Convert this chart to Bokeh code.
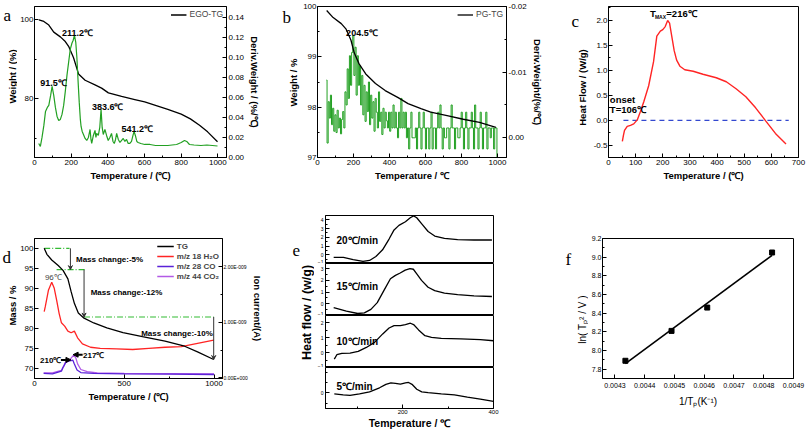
import numpy as np
from bokeh.plotting import figure
from bokeh.models import (Range1d, LinearAxis, FixedTicker, NumeralTickFormatter,
                          Label, Legend, LegendItem, Arrow, VeeHead, NormalHead)
from bokeh.layouts import row, column
from bokeh.core.properties import value
from bokeh.embed import file_html
from bokeh.resources import INLINE

FONT = "Liberation Sans"
SERIF = "Liberation Serif"
GREEN = "#22a022"
RED = "#ff2424"

# ---------------- data ----------------
# (a) EGO TG / DTG
a_tg_T = [24, 51, 78, 105, 141, 168, 186, 213, 240, 276, 330, 366, 403, 475, 547, 601, 727, 800, 850, 900, 944, 998]
a_tg_w = [100.0, 99.6, 98.7, 96.9, 95.7, 94.5, 93.3, 90.4, 86.3, 84.7, 83.5, 82.7, 81.5, 80.6, 79.8, 79.2, 77.3, 76.1, 74.9, 73.3, 71.6, 69.1]
a_dtg_T = [23, 32, 41, 51, 60, 70, 78, 88, 96, 105, 114, 123, 132, 141, 150, 159, 168, 177, 186, 195, 204, 211,
           218, 225, 231, 238, 244, 250, 254, 260, 267, 276, 285, 294, 303, 308, 312, 321, 330, 335, 339, 348,
           356, 363, 369, 375, 384, 393, 402, 411, 420, 428, 435, 442, 448, 457, 466, 475, 484, 493, 502, 511,
           520, 529, 537, 543, 550, 558, 565, 580, 601, 630, 660, 700, 727, 750, 775, 800, 818, 830, 845, 870,
           908, 940, 970, 998]
a_dtg = [0.014, 0.011, 0.020, 0.032, 0.046, 0.050, 0.052, 0.062, 0.071, 0.062, 0.050, 0.041, 0.037, 0.038,
         0.043, 0.052, 0.066, 0.082, 0.095, 0.108, 0.114, 0.117, 0.122, 0.115, 0.100, 0.075, 0.055, 0.038,
         0.031, 0.026, 0.023, 0.019, 0.017, 0.020, 0.028, 0.018, 0.014, 0.022, 0.027, 0.020, 0.024, 0.022,
         0.030, 0.048, 0.030, 0.023, 0.028, 0.022, 0.017, 0.020, 0.024, 0.016, 0.014, 0.018, 0.024, 0.018,
         0.015, 0.017, 0.019, 0.016, 0.018, 0.014, 0.014, 0.016, 0.022, 0.026, 0.022, 0.016, 0.015, 0.014,
         0.013, 0.013, 0.012, 0.012, 0.012, 0.0125, 0.013, 0.015, 0.017, 0.016, 0.013, 0.0125, 0.012, 0.0125,
         0.012, 0.0115]

# (b) PG TG / DTG
b_tg_T = [51, 87, 132, 159, 186, 204, 231, 268, 322, 376, 448, 503, 575, 629, 720, 810, 900, 991]
b_tg_w = [99.92, 99.78, 99.66, 99.55, 99.33, 99.08, 98.86, 98.66, 98.47, 98.33, 98.19, 98.07, 97.97, 97.90,
          97.83, 97.76, 97.70, 97.60]
b_dtg_milli = [-8.8, 0.8, -5.5, -3.0, -6.5, -2.0,
               -4.5, -1.0, -3.5, -0.8, -4.2, -1.5, -3.0, -0.6, -2.8, -4.0,
               -1.5, -7.0, -5.0, -10.5, -6.0,
               -12.5, -8.0, -13.0, -15.6, -9.5, -13.8, -6.5, -12.5, -8.0, -11.0,
               -5.0, -9.5, -3.5, -8.0, -2.5, -7.0, -4.0, -8.5, -2.0, -6.5, -3.0,
               -5.5, -1.0, -6.0, -3.9, -1.5, -7.0, -2.5, -3.9, -0.5, -4.5, -1.5, -3.9, -2.6, -1.5, -3.9, -1.0,
               -3.9, -1.5, -5.0, -1.5, -3.9, -1.5, 0.0, -3.9, -1.5, -6.0, -1.5, -3.9, -1.5, -3.9, 0.0, -1.5,
               1.7, -1.5, -3.9, 0.0, 0.0, 0.0, -1.5, 1.7, -1.5, -3.9, -1.5, 1.7, -1.5, -3.9, -1.5, 1.7,
               -1.5, -1.5, 1.7, -1.5, -3.9, 1.7, -1.5, -1.5, 1.7, -1.5, -3.9, -1.5, -5.0, -1.5, 1.7, -1.5,
               0.0, 0.0, -1.5, -1.5, 1.7, -1.5, -5.0, -1.5, -1.5, 1.7, -1.5, -1.5, 0.0, 0.0, -1.5, -3.9,
               -1.5, 1.7, -1.5, -3.9, -1.5, 1.7, -1.5, -1.5, -3.9, -1.5, 1.7, -5.0, -1.5, -1.5, 1.7, -1.5,
               -3.9, -1.5, 1.7, -1.5, -1.5, -3.9, 1.7, -1.5, -1.5, 0.0, -1.5, -1.5, 1.7, -1.5, -1.5, 3.0]
b_dtg_T = np.linspace(50, 1000, len(b_dtg_milli))

# (c) DSC
c_T = [51, 55, 59, 69, 81, 93, 106, 118, 130, 148, 166, 178, 191, 200, 209, 218, 225, 233, 242, 251, 263,
       281, 312, 348, 397, 434, 470, 506, 542, 579, 615, 654]
c_hf = [-0.42, -0.30, -0.20, -0.12, -0.10, -0.07, 0.01, 0.18, 0.37, 0.69, 1.17, 1.68, 1.78, 1.81, 1.87, 1.99,
        1.94, 1.68, 1.39, 1.20, 1.08, 1.01, 0.98, 0.92, 0.85, 0.77, 0.63, 0.47, 0.25, -0.01, -0.26, -0.47]
c_zero_T = [55, 664]

# (d) TG-MS
d_tg_T = [54, 69, 96, 132, 159, 186, 204, 222, 244, 276, 330, 403, 493, 601, 727, 836, 908, 998]
d_tg_m = [100, 98.5, 97.1, 95.7, 94.5, 92.4, 89.2, 86.3, 83.9, 82.6, 81.4, 80.2, 79.0, 78.0, 76.9, 75.6, 74.2, 72.3]
d_h2o_T = [54, 60, 78, 96, 110, 123, 137, 150, 168, 186, 204, 222, 240, 267, 312, 366, 457, 547, 637, 727, 818, 908, 998]
d_h2o_nA = [1.19, 1.28, 1.58, 1.72, 1.61, 1.40, 1.16, 0.99, 0.93, 0.84, 0.81, 0.84, 0.72, 0.61, 0.55, 0.53,
            0.52, 0.51, 0.53, 0.55, 0.56, 0.62, 0.68]
d_co_T = [51, 100, 150, 159, 173, 186, 204, 213, 222, 237, 258, 330, 500, 750, 1000]
d_co_nA = [0.08, 0.07, 0.12, 0.19, 0.27, 0.30, 0.31, 0.32, 0.25, 0.14, 0.095, 0.08, 0.07, 0.065, 0.06]
d_co2_T = [51, 100, 150, 165, 172, 190, 205, 219, 230, 240, 258, 294, 350, 500, 750, 1000]
d_co2_nA = [0.09, 0.09, 0.136, 0.22, 0.28, 0.30, 0.36, 0.41, 0.36, 0.25, 0.15, 0.11, 0.09, 0.08, 0.075, 0.07]
d_levels = [100.0, 94.7, 82.9, 72.3]          # mass levels of the steps
d_level_T0 = [54, 123, 276]                   # dash-dot guide starts
d_level_T1 = [195, 285, 998]                  # dash-dot guide ends
d_arrow_T = [200, 276, 998]                   # vertical arrows

# (e) DSC at different heating rates
e20_T = [48, 69.5, 91, 112.6, 127, 141, 155.7, 170, 181, 191.7, 206, 216.7, 224, 231, 242, 256, 270.6, 292, 321, 357, 396.5]
e20_hf = [-0.30, -0.30, -0.55, -0.76, -0.65, -0.20, 0.57, 1.80, 2.85, 3.37, 3.79, 4.24, 4.45, 4.24, 3.55, 2.67, 2.15, 1.87, 1.73, 1.69, 1.69]
e15_T = [48, 76, 101, 115.6, 130, 144, 158.5, 173, 184, 194.5, 205.5, 216, 223.5, 230.6, 241.5, 256, 270.5, 292, 321, 357, 396.5]
e15_hf = [-0.33, -0.62, -0.83, -0.77, -0.48, 0.10, 1.12, 2.13, 2.42, 2.62, 2.86, 3.00, 2.94, 2.57, 1.99, 1.41, 1.12, 0.91, 0.77, 0.68, 0.62]
e10_T = [49.4, 55, 66, 84, 102, 120, 138, 156, 170, 181, 195, 206, 217, 224, 235, 249, 263.5, 285, 328, 371, 400]
e10_hf = [-0.44, -0.14, -0.05, -0.03, 0.08, 0.35, 0.69, 1.26, 1.66, 1.82, 1.82, 1.89, 1.98, 1.89, 1.53, 1.14, 1.03, 0.96, 0.92, 0.87, 0.80]
e5_T = [49.4, 69, 84, 105, 127, 149, 163, 174, 184, 195, 206, 213, 220.5, 231, 242, 256, 285, 314, 342.5, 371, 400]
e5_hf = [-0.05, -0.10, -0.12, -0.05, 0.05, 0.25, 0.42, 0.49, 0.47, 0.43, 0.49, 0.51, 0.42, 0.18, 0.05, 0.01, -0.05, -0.10, -0.21, -0.30, -0.41]
e_rates = ["20℃/min", "15℃/min", "10℃/min", "5℃/min"]

# (f) Kissinger plot
f_invT = [0.004335, 0.00449, 0.00461, 0.004828]
f_ln = [7.89, 8.21, 8.46, 9.05]


# ---------------- helpers ----------------
def make_fig(w, h, xr, yr, ml, mr, mt, mb):
    p = figure(width=w, height=h, x_range=Range1d(*xr), y_range=Range1d(*yr),
               output_backend="svg", toolbar_location=None,
               min_border_left=ml, min_border_right=mr, min_border_top=mt, min_border_bottom=mb)
    p.xgrid.visible = False
    p.ygrid.visible = False
    p.outline_line_color = "black"
    p.outline_line_alpha = 1.0
    p.outline_line_width = 1
    p.background_fill_color = "white"
    p.border_fill_color = "white"
    return p


def style_axis(ax, ticks, minor=None, fmt=None, label=None, tick_size="8px", label_size="9.5px",
               bold=True, standoff=2, lstandoff=2):
    ax.ticker = FixedTicker(ticks=ticks, minor_ticks=minor or [])
    if fmt:
        ax.formatter = NumeralTickFormatter(format=fmt)
    ax.axis_label = label
    ax.major_tick_in = 4
    ax.major_tick_out = 0
    ax.minor_tick_in = 2
    ax.minor_tick_out = 0
    ax.axis_line_color = "black"
    ax.major_tick_line_color = "black"
    ax.minor_tick_line_color = "black"
    ax.major_label_text_font = FONT
    ax.major_label_text_font_size = tick_size
    ax.major_label_text_color = "black"
    ax.major_label_standoff = standoff
    ax.axis_label_text_font = FONT
    ax.axis_label_text_font_size = label_size
    ax.axis_label_text_font_style = "bold" if bold else "normal"
    ax.axis_label_text_color = "black"
    ax.axis_label_standoff = lstandoff


def txt(p, x, y, s, size="9px", bold=True, align="left", baseline="middle", color="black",
        units="data", angle=0, font=FONT):
    lab = Label(x=x, y=y, text=s, x_units=units, y_units=units, text_font=font,
                text_font_size=size, text_font_style="bold" if bold else "normal",
                text_align=align, text_baseline=baseline, text_color=color, angle=angle)
    p.add_layout(lab)


def side_fig(w, h, let, lx, ly, ylab=None, yx=0, yy=0, ysize="9.5px", ybold=True):
    """Narrow strip holding the panel letter and the rotated y-axis title.
    Its data ranges equal its pixel size (y measured from the top)."""
    p = figure(width=w, height=h, x_range=Range1d(0, w), y_range=Range1d(h, 0),
               output_backend="svg", toolbar_location=None, min_border=0)
    p.axis.visible = False
    p.grid.visible = False
    p.outline_line_color = None
    p.background_fill_color = "white"
    p.border_fill_color = "white"
    p.text(x=[lx], y=[ly], text=[let], text_font=value(SERIF), text_font_size="17px",
           text_baseline="alphabetic", text_align="left", text_color="black")
    if ylab:
        txt(p, yx, yy, ylab, size=ysize, bold=ybold, align="center", units="canvas", angle=np.pi / 2)
    return p


def style_legend(leg, size="8.5px", bold=False, gw=16, lh=9):
    leg.label_text_font = FONT
    leg.label_text_font_size = size
    leg.label_text_font_style = "bold" if bold else "normal"
    leg.glyph_width = gw
    leg.glyph_height = lh
    leg.label_height = lh
    leg.label_standoff = 3
    leg.spacing = 0
    leg.padding = 1
    leg.margin = 2
    leg.border_line_alpha = 0
    leg.background_fill_alpha = 0


TOP_H = 215
BOT_H = 216

# ---------------- (a) ----------------
la = side_fig(17, TOP_H, "a", 3, 13, "Weight / (%)", 11.5, 76)
pa = make_fig(248, TOP_H, (0, 1047), (65.1, 103.4), 15, 39, 1, 58)
pa.extra_y_ranges = {"r": Range1d(0, 0.1507)}
style_axis(pa.xaxis[0], list(range(0, 1001, 200)), list(range(100, 1001, 200)), label="Temperature / (℃)")
style_axis(pa.yaxis[0], [80, 100], [70, 90], standoff=1)
ra = LinearAxis(y_range_name="r")
style_axis(ra, [round(0.02 * i, 2) for i in range(8)], [round(0.01 + 0.02 * i, 2) for i in range(7)],
           fmt="0.00", label="Deriv.Weight / (%/℃)")
pa.add_layout(ra, "right")
r_a = pa.line(a_tg_T, a_tg_w, color="black", line_width=1.3)
pa.line(a_dtg_T, a_dtg, color=GREEN, line_width=1.2, y_range_name="r")
leg_a = Legend(items=[LegendItem(label="EGO-TG", renderers=[r_a])], location="top_right")
style_legend(leg_a)
pa.add_layout(leg_a)
txt(pa, 31, 83.9, "91.5℃")
txt(pa, 150, 96.8, "211.2℃")
txt(pa, 313, 78.0, "383.6℃")
txt(pa, 475, 72.4, "541.2℃")

# ---------------- (b) ----------------
lb = side_fig(35, TOP_H, "b", 17, 15, "Weight / %", 28.3, 82)
pb = make_fig(245, TOP_H, (0, 1050), (97, 100), 16, 36, 5, 53)
pb.extra_y_ranges = {"r": Range1d(0.003, -0.02)}
style_axis(pb.xaxis[0], list(range(0, 1001, 200)), list(range(100, 1001, 200)), label="Temperature / ℃")
style_axis(pb.yaxis[0], [97, 98, 99, 100], [97.5, 98.5, 99.5], standoff=1)
rb = LinearAxis(y_range_name="r")
style_axis(rb, [-0.02, -0.01, 0.0], [-0.015, -0.005], fmt="0.00", label="Deriv.Weight/(%/℃)")
pb.add_layout(rb, "right")
pb.step(b_dtg_T, [v * 1e-3 for v in b_dtg_milli], mode="center", color=GREEN, line_width=1.0, y_range_name="r")
r_b = pb.line(b_tg_T, b_tg_w, color="black", line_width=1.3)
leg_b = Legend(items=[LegendItem(label="PG-TG", renderers=[r_b])], location="top_right")
style_legend(leg_b)
pb.add_layout(leg_b)
txt(pb, 159, 99.48, "204.5℃")

# ---------------- (c) ----------------
lc = side_fig(45, TOP_H, "c", 26, 21, "Heat Flow / (W/g)", 36.7, 87)
pc = make_fig(217, TOP_H, (0, 700), (-0.74, 2.27), 16, 9, 6, 52)
style_axis(pc.xaxis[0], list(range(0, 701, 100)), list(range(50, 700, 100)), label="Temperature / (℃)")
style_axis(pc.yaxis[0], [-0.5, 0.0, 0.5, 1.0, 1.5, 2.0], [-0.25, 0.25, 0.75, 1.25, 1.75, 2.25],
           fmt="0.0", standoff=1)
pc.line(c_zero_T, [0, 0], color="#3348d0", line_width=1.1, line_dash="5 4")
pc.line(c_T, c_hf, color=RED, line_width=1.4)
txt(pc, 153, 2.13, "T", size="9.5px")
txt(pc, 171, 2.06, "MAX", size="5px")
txt(pc, 213, 2.13, "=216℃", size="9.5px")
txt(pc, 5, 0.42, "onset", size="9.5px")
txt(pc, 5, 0.22, "T=106℃", size="9.5px")

# ---------------- (d) ----------------
ld = side_fig(17, BOT_H, "d", 2, 30, "Mass / %", 12.2, 90)
pd = make_fig(248, BOT_H, (0, 1047), (67.56, 102.45), 15, 40, 21, 53)
pd.extra_y_ranges = {"r": Range1d(-0.012, 2.506)}
style_axis(pd.xaxis[0], [0, 500, 1000], [250, 750], label="Temperature / (℃)")
style_axis(pd.yaxis[0], [70, 75, 80, 85, 90, 95, 100], standoff=1)
rd = LinearAxis(y_range_name="r")
style_axis(rd, [0, 1, 2], [0.5, 1.5], label="Ion current/(A)", tick_size="5px", standoff=1, lstandoff=1)
rd.major_label_overrides = {0: "0.00E+000", 1: "1.00E-009", 2: "2.00E-009"}
pd.add_layout(rd, "right")
for t0, t1, lv in zip(d_level_T0, d_level_T1, d_levels[:3]):
    pd.line([t0, t1], [lv, lv], color="#33bb33", line_width=1.1, line_dash="6 2 1 2")
r_co2 = pd.line(d_co2_T, d_co2_nA, color="#b25ae6", line_width=1.3, y_range_name="r")
r_co = pd.line(d_co_T, d_co_nA, color="#5a22d8", line_width=1.3, y_range_name="r")
r_h2o = pd.line(d_h2o_T, d_h2o_nA, color=RED, line_width=1.3, y_range_name="r")
r_tg = pd.line(d_tg_T, d_tg_m, color="black", line_width=1.3)
for t, y0, y1 in zip(d_arrow_T, d_levels[:3], d_levels[1:]):
    pd.add_layout(Arrow(end=VeeHead(size=4, line_color="#333333", line_width=1), x_start=t, y_start=y0,
                        x_end=t, y_end=y1, line_color="#333333", line_width=1))
pd.add_layout(Arrow(end=NormalHead(size=5, fill_color="black", line_color="black"),
                    x_start=147, y_start=72.2, x_end=203, y_end=72.2, line_color="black", line_width=2))
pd.add_layout(Arrow(end=NormalHead(size=5, fill_color="black", line_color="black"),
                    x_start=268, y_start=73.5, x_end=215, y_end=73.5, line_color="black", line_width=2))
leg_d = Legend(items=[LegendItem(label="TG", renderers=[r_tg]),
                      LegendItem(label="m/z 18 H₂O", renderers=[r_h2o]),
                      LegendItem(label="m/z 28 CO", renderers=[r_co]),
                      LegendItem(label="m/z 44 CO₂", renderers=[r_co2])], location="top_right")
style_legend(leg_d, size="8px", bold=True, gw=17, lh=10)
pd.add_layout(leg_d)
txt(pd, 231, 97.2, "Mass change:-5%", size="8px")
txt(pd, 313, 88.9, "Mass change:-12%", size="8px")
txt(pd, 594, 78.7, "Mass change:-10%", size="8px")
txt(pd, 58, 92.8, "96℃", size="8px", bold=False, color="#444444")
txt(pd, 31, 72.0, "210℃", size="8px")
txt(pd, 270, 73.3, "217℃", size="8px")

# ---------------- (e) ----------------
pel = side_fig(49, BOT_H, "e", 27, 19, "Heat flow / (w/g)", 41, 97, ysize="12.5px")

e_sets = [(e20_T, e20_hf, (-1, 4.5), [-1, 0, 1, 2, 3, 4], 1.66),
          (e15_T, e15_hf, (-1, 3.43), [-1, 0, 1, 2, 3], 1.46),
          (e10_T, e10_hf, (-1, 2.5), [-1, 0, 1, 2], 0.74),
          (e5_T, e5_hf, (-0.76, 1.24), [0], 0.32)]
e_heights = [48, 52, 52, 64]
e_figs = []
for i, (T, hf, yr, yt, ly) in enumerate(e_sets):
    last = i == len(e_sets) - 1
    pe = make_fig(231, e_heights[i], (30, 400), yr, 8, 52, 0, 19 if last else 0)
    minor = [v + 0.5 for v in yt[:-1]] if len(yt) > 1 else [-0.5, 0.5, 1.0]
    style_axis(pe.yaxis[0], yt, minor, tick_size="5px", standoff=2)
    if last:
        style_axis(pe.xaxis[0], [200, 400], [100, 300], label="Temperature / ℃", tick_size="6px",
                   label_size="10.5px", standoff=1, lstandoff=0)
    else:
        pe.xaxis.visible = False
    pe.line(T, hf, color="black", line_width=1.3)
    txt(pe, 54, ly, e_rates[i], size="10px")
    e_figs.append(pe)

# ---------------- (f) ----------------
lf = side_fig(43, BOT_H, "f", 20, 33, "ln( Tₚ² / V )", 36.7, 104, ysize="10px", ybold=False)
pf = make_fig(219, BOT_H, (0.004258, 0.0049), (7.70, 9.2), 11, 14, 23, 37)
style_axis(pf.xaxis[0], [round(0.0043 + 0.0001 * i, 4) for i in range(7)], fmt="0.0000",
           label="1/Tₚ(K⁻¹)", tick_size="7px", label_size="10px", bold=False, standoff=4, lstandoff=5)
style_axis(pf.yaxis[0], [round(7.8 + 0.2 * i, 1) for i in range(8)],
           [round(7.9 + 0.2 * i, 1) for i in range(7)], fmt="0.0", tick_size="7px", standoff=1)
slope, icpt = np.polyfit(f_invT, f_ln, 1)
fit_x = [min(f_invT), max(f_invT)]
pf.line(fit_x, [slope * v + icpt for v in fit_x], color="black", line_width=1.6)
pf.scatter(f_invT, f_ln, marker="square", size=5, color="black")

layout = column(row(la, pa, lb, pb, lc, pc),
                row(ld, pd, pel, column(*e_figs), lf, pf))
open("out.html", "w").write(file_html(layout, INLINE))
